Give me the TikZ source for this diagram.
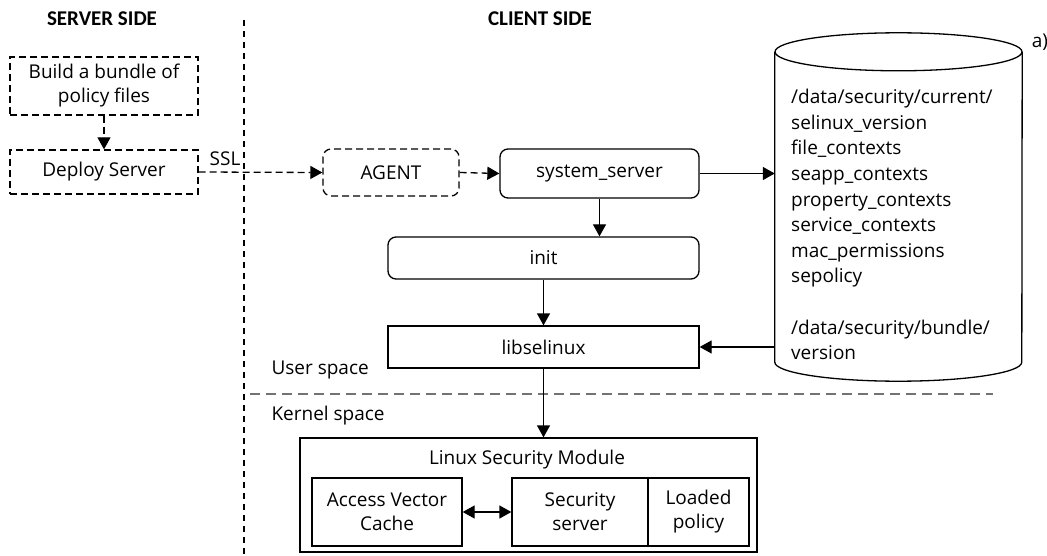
\documentclass[tikz,border=0pt]{standalone}
\usepackage{fontspec}
\setmainfont{Open Sans}
\newfontfamily\headfont{Carlito}
\usetikzlibrary{arrows.meta}
\begin{document}
\begin{tikzpicture}[x=1pt,y=-1pt,
  every node/.style={font=\fontsize{19}{24}\selectfont},
  box/.style={draw, line width=1.3pt, inner sep=0pt, align=center},
  dbox/.style={box, dash pattern=on 7pt off 4pt},
  rbox/.style={box, rounded corners=8pt},
  head/.style={font=\headfont\bfseries\fontsize{21}{24}\selectfont},
  tip/.tip={Triangle[length=12pt,width=13pt]},
  conn/.style={line width=1.3pt, -tip},
  dconn/.style={conn, dash pattern=on 7pt off 4pt},
  sepv/.style={line width=1.3pt, dash pattern=on 6pt off 5pt},
  seph/.style={line width=1.4pt, draw=black!55, dash pattern=on 10pt off 6pt}]
\useasboundingbox (0,0) rectangle (1047,556);
% headings
\node[head] (hs) at (102,19) {SERVER SIDE};
\node[head] (hc) at (540,19) {CLIENT SIDE};
% separators
\coordinate (vtop) at (244,20);
\coordinate (vbot) at (244,556);
\draw[sepv] (vtop) -- (vbot);
\coordinate (hl) at (250,394);
\coordinate (hr) at (993,394);
\draw[seph] (hl) -- (hr);
% server side
\node[dbox, minimum width=188pt, minimum height=58pt] (build) at (104,86) {Build a bundle of\\policy files};
\node[dbox, minimum width=188pt, minimum height=44pt] (deploy) at (104,172) {Deploy Server};
\node (ssl) at (225,159) {SSL};
% client side
\node[dbox, rounded corners=8pt, minimum width=136pt, minimum height=47pt] (agent) at (391,172.5) {AGENT};
\node[rbox, minimum width=199pt, minimum height=49pt] (ss) at (599.5,173.5) {system\_server};
\node[rbox, minimum width=311pt, minimum height=42pt] (init) at (543.5,258) {init};
\node[box, minimum width=311pt, minimum height=42pt] (lib) at (543.5,347) {libselinux};
\node[anchor=west] (us) at (268,370) {User space};
\node[anchor=west] (ks) at (268,416) {Kernel space};
% LSM
\node[box, minimum width=457pt, minimum height=114pt] (lsm) at (528.5,495) {};
\node (lsmt) at (527,460) {Linux Security Module};
\node[box, minimum width=150pt, minimum height=68pt] (avc) at (387,512) {Access Vector\\Cache};
\node[box, minimum width=136pt, minimum height=68pt] (sec) at (580,512) {Security\\server};
\node[box, minimum width=101pt, minimum height=68pt] (pol) at (698.5,512) {Loaded\\policy};
% database cylinder
\node[minimum width=247pt, minimum height=310pt, inner sep=0pt] (db) at (898.5,207) {};
\draw[line width=1.3pt] (db.north west) -- (db.south west)
  arc[start angle=180, end angle=360, x radius=123.5pt, y radius=19pt] -- (db.north east);
\draw[line width=1.3pt] (db.north) ellipse [x radius=123.5pt, y radius=19pt];
\node[anchor=north west, align=left, inner sep=0pt, font=\fontsize{19}{25.6}\selectfont] (files) at (791,89)
 {/data/security/current/\\selinux\_version\\file\_contexts\\seapp\_contexts\\property\_contexts\\service\_contexts\\mac\_permissions\\sepolicy\\\mbox{}\\/data/security/bundle/\\version};
\node (a) at (1040,42) {a)};
% connectors
\draw[dconn] (build) -- (deploy);
\draw[dconn] (deploy.east) -- (agent.west);
\draw[dconn] (agent.east) -- (ss.west);
\draw[conn] (ss.east) -- (ss.east -| db.west);
\draw[conn] (ss.south) -- (ss.south |- init.north);
\draw[conn] (init.south) -- (lib.north);
\draw[conn] (db.west |- lib.east) -- (lib.east);
\draw[conn] (lib.south) -- (lib.south |- lsm.north);
\draw[line width=1.3pt, tip-tip] (avc.east) -- (sec.west);
\end{tikzpicture}
\end{document}
